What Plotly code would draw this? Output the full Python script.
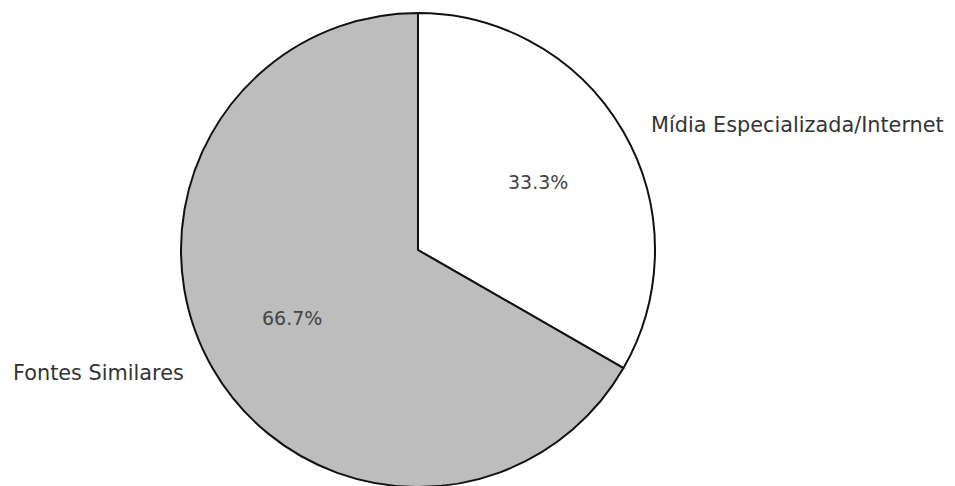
import plotly.graph_objects as go

labels = ["Mídia Especializada/Internet", "Fontes Similares"]
values = [33.3, 66.7]
colors = ["#ffffff", "#bdbdbd"]

W, H = 955, 486
OFF = 8  # page offset of the figure inside the browser window
# label anchor points (window pixels)
label_pos = [(649, 125, "left"), (186, 373, "right")]
pct_pos = [(538, 182), (292, 318)]

fig = go.Figure()
fig.add_trace(go.Pie(
    labels=labels,
    values=values,
    sort=False,
    direction="clockwise",
    rotation=0,
    marker=dict(colors=colors, line=dict(color="#111111", width=2)),
    textinfo="none",
    showlegend=False,
    hoverinfo="label+percent",
    domain=dict(x=[0, 820 / W], y=[7 / H, 481 / H]),
))

for lab, (px, py, anc) in zip(labels, label_pos):
    fig.add_annotation(
        x=(px - OFF) / W, y=1 - (py - OFF) / H, xref="paper", yref="paper",
        xanchor=anc, yanchor="middle",
        text=lab, showarrow=False,
        font=dict(family="DejaVu Sans", size=20.8, color="#333333"),
    )

total = sum(values)
for v, (px, py) in zip(values, pct_pos):
    fig.add_annotation(
        x=(px - OFF) / W, y=1 - (py - OFF) / H, xref="paper", yref="paper",
        xanchor="center", yanchor="middle",
        text=f"{100 * v / total:.1f}%", showarrow=False,
        font=dict(family="DejaVu Sans", size=19, color="#444444"),
    )

fig.update_layout(
    width=W, height=H,
    margin=dict(l=0, r=0, t=0, b=0),
    paper_bgcolor="white",
    plot_bgcolor="white",
)
fig.write_html("out.html")
